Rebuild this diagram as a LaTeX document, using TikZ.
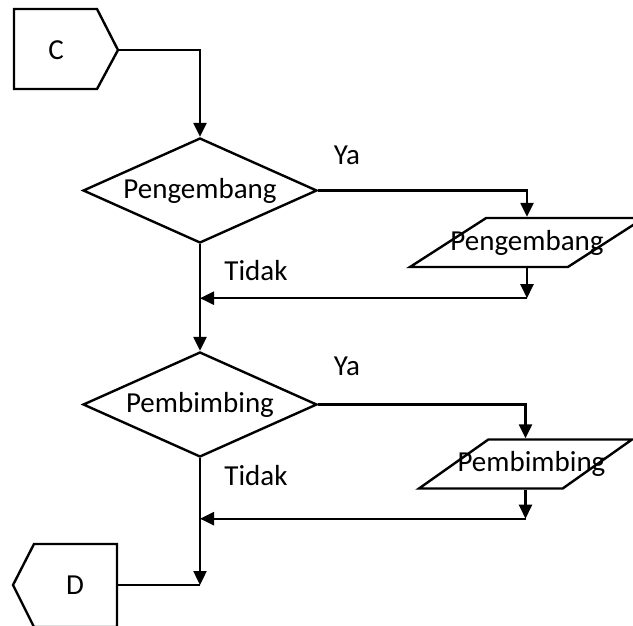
\documentclass[tikz,border=0pt]{standalone}
\usepackage{fontspec}
\setmainfont{Carlito}
\usepackage{tikz}
\usetikzlibrary{shapes.geometric,arrows.meta,positioning,calc}

\begin{document}
\begin{tikzpicture}[x=1pt,y=-1pt,line width=2.4pt,
        font=\fontsize{29}{34}\selectfont,
        decision/.style={diamond,draw,inner sep=0pt,shape aspect=2.2,minimum width=234pt,minimum height=105pt},
        iobox/.style={trapezium,draw,inner sep=1pt,trapezium left angle=47,trapezium right angle=133,trapezium stretches=true,minimum height=49pt},
        arr/.style={-{Triangle[length=14pt,width=13pt]}}]
        \useasboundingbox (0,0) rectangle (633,625);
        % Off-page connectors
        \draw (14,9) -- (97,9) -- (118,50) coordinate (Ctip) -- (97,89) -- (14,89) -- cycle;
        \node[inner sep=0pt] (C) at (56,50) {C};
        \draw (117,544) -- (34,544) -- (13,585) -- (34,627) -- (117,627) -- cycle;
        \coordinate (Dend) at (117,585);
        \node[inner sep=0pt] (D) at (75,585) {D};
        % Decisions and outputs
        \node[decision] (d1) at (200,190.5) {Pengembang};
        \node[iobox,minimum width=234pt,label=center:Pengembang] (p1) at (527,242.5) {};
        \node[decision] (d2) at (200,404.5) {Pembimbing};
        \node[iobox,minimum width=213pt,label={[xshift=6pt]center:Pembimbing}] (p2) at (525.5,464) {};
        \coordinate (j1) at ($(p1.south)+(0,30)$);
        \coordinate (j2) at ($(p2.south)+(0,29)$);
        \coordinate (m3) at (200,585);
        % Connectors
        \draw[arr] (Ctip) -| (d1.north);
        \draw[arr] (d1.east) -| (p1.north);
        \draw[arr] (p1.south) -- (j1);
        \draw[arr] (j1) -- (j1 -| d1.south);
        \draw[arr] (d1.south) -- (d2.north);
        \draw[arr] (d2.east) -| (p2.north);
        \draw[arr] (p2.south) -- (j2);
        \draw[arr] (j2) -- (j2 -| d2.south);
        \draw[arr] (d2.south) -- (m3);
        \draw (m3) -- (Dend);
        % Labels
        \node[inner sep=0pt] (ya1) at (347,155) {Ya};
        \node[inner sep=0pt] (tidak1) at (256,271) {Tidak};
        \node[inner sep=0pt] (ya2) at (347,366) {Ya};
        \node[inner sep=0pt] (tidak2) at (256,476) {Tidak};
    \end{tikzpicture}
\end{document}
